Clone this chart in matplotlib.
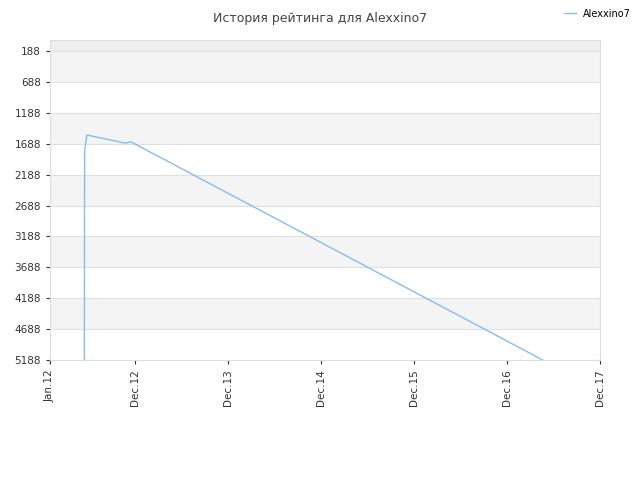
import matplotlib
matplotlib.use("Agg")
import matplotlib.pyplot as plt
import matplotlib.dates as mdates
import datetime as dt

dates = [dt.date(2012,5,15), dt.date(2012,5,16), dt.date(2012,5,25), dt.date(2012,10,20), dt.date(2012,11,15), dt.date(2017,4,20)]
ranks = [5188, 1800, 1547, 1677, 1660, 5188]
yticks = [188, 688, 1188, 1688, 2188, 2688, 3188, 3688, 4188, 4688, 5188]
xticks = [dt.date(2012,1,1)] + [dt.date(y,12,1) for y in range(2012,2018)]
xlabels = ["Jan.12","Dec.12","Dec.13","Dec.14","Dec.15","Dec.16","Dec.17"]

fig = plt.figure(figsize=(6.4,4.8), dpi=100)
ax = fig.add_axes([50/640, 1-360/480, 550/640, 320/480])
ax.set_xlim(xticks[0], xticks[-1])
ax.set_ylim(5188, 10)
ax.axhspan(10, 188, color="#eeeeee", lw=0)
for i in range(0, len(yticks)-1, 2):
    ax.axhspan(yticks[i], yticks[i+1], color="#f4f4f4", lw=0)
for y in yticks:
    ax.axhline(y, color="#e0e0e0", lw=0.8)
ax.plot(dates, ranks, color="#88bbee", lw=1, label="Alexxino7")
ax.set_yticks(yticks)
ax.set_xticks(xticks)
ax.set_xticklabels(xlabels, rotation=90)
ax.tick_params(labelsize=7.5, colors="#333333", length=3)
for s in ax.spines.values():
    s.set_color("#dddddd")
fig.text(0.5, 0.975, "История рейтинга для Alexxino7", ha="center", va="top", fontsize=9, color="#444444")
fig.legend(loc="upper right", bbox_to_anchor=(1.0, 1.0), frameon=False, fontsize=7, handlelength=1.2)
fig.savefig("out.png")
